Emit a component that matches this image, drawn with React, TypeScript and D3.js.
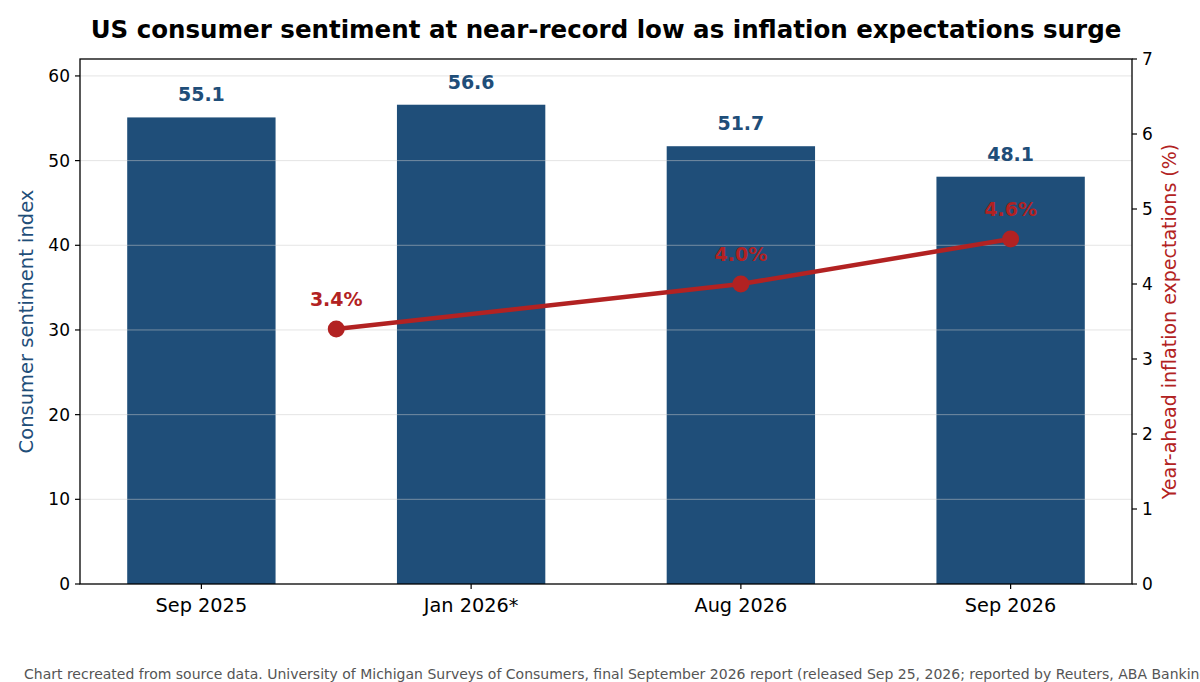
import React from 'react';
import * as d3 from 'd3';

const categories = ['Sep 2025', 'Jan 2026*', 'Aug 2026', 'Sep 2026'];
const sentiment = [55.1, 56.6, 51.7, 48.1];
// inflation points sit at category index positions (first one between Sep 2025 and Jan 2026)
const inflationIndex = [0.5, 2, 3];
const inflation = [3.4, 4.0, 4.6];
const leftTicks = [0, 10, 20, 30, 40, 50, 60];
const rightTicks = [0, 1, 2, 3, 4, 5, 6, 7];

const W = 1200;
const H = 682;
const margin = { top: 59, right: 68, bottom: 98, left: 80 };
const BAR = '#1f4e79';
const RED = '#b22222';
const FONT = '"DejaVu Sans", sans-serif';

export default function App() {
  const iw = W - margin.left - margin.right;
  const ih = H - margin.top - margin.bottom;

  const x = d3.scaleLinear().domain([-0.45, categories.length - 0.55]).range([0, iw]);
  const y = d3.scaleLinear().domain([0, 62]).range([ih, 0]);
  const y2 = d3.scaleLinear().domain([0, 7]).range([ih, 0]);
  const barW = x(0.55) - x(0);

  const pts = inflation.map((v, i) => [x(inflationIndex[i]), y2(v)] as [number, number]);
  const line = d3.line();

  return (
    <div style={{ position: 'absolute', left: 0, top: 0 }}>
      <svg width={W} height={H} style={{ display: 'block', fontFamily: FONT }}>
        <rect width={W} height={H} fill="#fff" />
        <text x={606} y={38} textAnchor="middle" fontSize={24.5} fontWeight="bold" fill="#000">
          US consumer sentiment at near-record low as inflation expectations surge
        </text>
        <g transform={`translate(${margin.left},${margin.top})`}>
          {sentiment.map((v, i) => (
            <rect key={i} x={x(i) - barW / 2} y={y(v)} width={barW} height={ih - y(v)} fill={BAR} />
          ))}
          {leftTicks.slice(1).map(t => (
            <line key={t} x1={0} x2={iw} y1={y(t)} y2={y(t)} stroke="#cccccc" strokeOpacity={0.5} strokeWidth={1} />
          ))}
          {sentiment.map((v, i) => (
            <text key={i} x={x(i)} y={y(v) - 16} textAnchor="middle" fontSize={19} fontWeight="bold" fill={BAR}>
              {v.toFixed(1)}
            </text>
          ))}
          <path d={line(pts) || ''} fill="none" stroke={RED} strokeWidth={4.5} />
          {pts.map((p, i) => (
            <circle key={i} cx={p[0]} cy={p[1]} r={8.5} fill={RED} />
          ))}
          {pts.map((p, i) => (
            <text key={i} x={p[0]} y={p[1] - 23} textAnchor="middle" fontSize={19} fontWeight="bold" fill={RED}>
              {inflation[i].toFixed(1)}%
            </text>
          ))}

          {/* frame */}
          <rect x={0} y={0} width={iw} height={ih} fill="none" stroke="#000" strokeWidth={1.3} />

          {/* left axis */}
          {leftTicks.map(t => (
            <g key={t} transform={`translate(0,${y(t)})`}>
              <line x1={-5} x2={0} stroke="#000" strokeWidth={1.2} />
              <text x={-10} dy="0.35em" textAnchor="end" fontSize={17} fill="#000">{t}</text>
            </g>
          ))}
          {/* right axis */}
          {rightTicks.map(t => (
            <g key={t} transform={`translate(${iw},${y2(t)})`}>
              <line x1={0} x2={5} stroke="#000" strokeWidth={1.2} />
              <text x={10} dy="0.35em" textAnchor="start" fontSize={17} fill="#000">{t}</text>
            </g>
          ))}
          {/* bottom axis */}
          {categories.map((c, i) => (
            <g key={c} transform={`translate(${x(i)},${ih})`}>
              <line y1={0} y2={5} stroke="#000" strokeWidth={1.2} />
              <text y={28} textAnchor="middle" fontSize={19.3} fill="#000">{c}</text>
            </g>
          ))}
        </g>
        <text transform={`translate(33,${margin.top + ih / 2}) rotate(-90)`} textAnchor="middle" fontSize={19.5} fill={BAR}>
          Consumer sentiment index
        </text>
        <text transform={`translate(1176,${margin.top + ih / 2}) rotate(-90)`} textAnchor="middle" fontSize={19} fill={RED}>
          Year-ahead inflation expectations (%)
        </text>
        <text x={24} y={679} fontSize={14} fill="#555">
          Chart recreated from source data. University of Michigan Surveys of Consumers, final September 2026 report (released Sep 25, 2026; reported by Reuters, ABA Banking Journal).
        </text>
      </svg>
    </div>
  );
}
